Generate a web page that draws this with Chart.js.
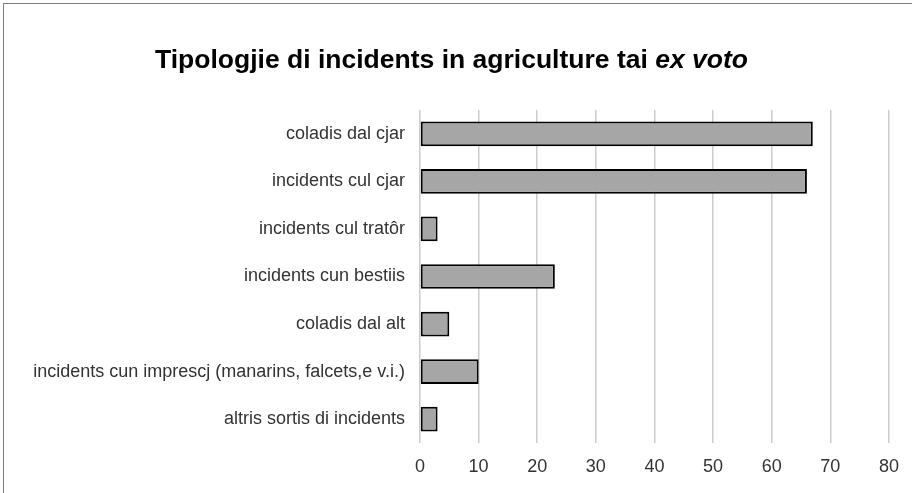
<!DOCTYPE html>
<html>
  <head>
    <meta charset="utf-8">
    <title>Tipologjie di incidents in agriculture tai ex voto</title>
    <script src="https://cdn.jsdelivr.net/npm/chart.js"></script>
    <style>
      html, body { margin: 0; padding: 0; overflow: hidden; background: #fff; }
      #frame {
        position: absolute; left: 3px; top: 3px; width: 940px; height: 520px;
        border: 1px solid #7f7f7f; box-sizing: border-box;
      }
      #title {
        position: absolute; left: 0; top: 46px; width: 903px; text-align: center;
        font: bold 26.5px/26px "Liberation Sans", Arial, sans-serif; color: #000;
      }
      #wrap { position: absolute; left: 0; top: 0; width: 912px; height: 493px; }
    </style>
  </head>
  <body>
    <div id="wrap"><canvas id="myChart"></canvas></div>
    <div id="frame"></div>
    <div id="title">Tipologjie di incidents in agriculture tai <i>ex voto</i></div>
    <script>
      const categories = [
        "coladis dal cjar",
        "incidents cul cjar",
        "incidents cul tratôr",
        "incidents cun bestiis",
        "coladis dal alt",
        "incidents cun imprescj (manarins, falcets,e v.i.)",
        "altris sortis di incidents",
      ];
      const counts = [67, 66, 3, 23, 5, 10, 3];
      const xTicks = [0, 10, 20, 30, 40, 50, 60, 70, 80];

      const config = {
        type: "bar",
        data: {
          labels: categories,
          datasets: [
            {
              label: "incidents",
              data: counts,
              backgroundColor: "#a6a6a6",
              borderColor: "#000000",
              borderWidth: 2,
              borderSkipped: false,
              barPercentage: 0.52,
              categoryPercentage: 1,
            },
          ],
        },
        options: {
          indexAxis: "y",
          responsive: false,
          animation: false,
          layout: { padding: { top: 110, right: 22, left: 0, bottom: 0 } },
          plugins: {
            legend: { display: false },
            title: { display: false },
            tooltip: { enabled: false },
          },
          scales: {
            x: {
              min: xTicks[0],
              max: xTicks[xTicks.length - 1],
              afterBuildTicks: (scale) => {
                scale.ticks = xTicks.map((v) => ({ value: v }));
              },
              afterFit: (scale) => { scale.height = 50; },
              grid: { color: "#cccccc", lineWidth: 1.5, drawTicks: false },
              border: { display: false },
              ticks: {
                padding: 13,
                color: "#333333",
                font: { family: "'Liberation Sans', Arial, sans-serif", size: 18 },
              },
            },
            y: {
              afterFit: (scale) => { scale.width = 420; },
              grid: { display: false, tickLength: 0 },
              border: { display: false },
              ticks: {
                padding: 15,
                color: "#333333",
                font: { family: "'Liberation Sans', Arial, sans-serif", size: 18 },
              },
            },
          },
        },
      };

      const canvas = document.getElementById("myChart");
      canvas.width = 912;
      canvas.height = 493;
      var myChart = new Chart(canvas, config);
    </script>
  </body>
</html>
